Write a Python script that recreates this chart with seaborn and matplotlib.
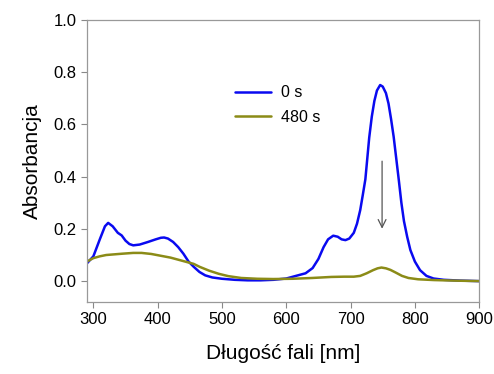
import numpy as np
import pandas as pd
import seaborn as sns
import matplotlib.pyplot as plt

# widmo 0 s
wl_0 = [290, 300, 310, 318, 323, 330, 338, 344, 350, 356, 362, 372, 385, 397, 405, 410, 416, 424,
        432, 440, 448, 456, 465, 474, 485, 500, 520, 540, 560, 580, 600, 615, 630, 641, 650, 658,
        665, 673, 680, 686, 692, 698, 705, 710, 715, 719, 723, 729, 733, 737, 741, 746, 750, 755,
        759, 763, 767, 771, 775, 779, 783, 788, 793, 800, 808, 818, 829, 845, 870, 900]
abs_0 = [0.068, 0.095, 0.16, 0.21, 0.223, 0.21, 0.185, 0.175, 0.155, 0.142, 0.137, 0.14, 0.15, 0.16,
         0.166, 0.167, 0.163, 0.15, 0.13, 0.105, 0.075, 0.055, 0.035, 0.022, 0.014, 0.009, 0.005,
         0.003, 0.003, 0.005, 0.01, 0.02, 0.03, 0.05, 0.085, 0.13, 0.16, 0.174, 0.17, 0.16, 0.157,
         0.163, 0.185, 0.22, 0.272, 0.33, 0.39, 0.55, 0.63, 0.69, 0.73, 0.751, 0.745, 0.72, 0.68,
         0.62, 0.553, 0.47, 0.387, 0.3, 0.23, 0.17, 0.119, 0.075, 0.042, 0.02, 0.01, 0.005, 0.002, 0.0]

# widmo 480 s
wl_480 = [290, 300, 310, 320, 330, 345, 362, 375, 390, 405, 420, 435, 456, 465, 480, 495, 510,
          530, 555, 580, 610, 640, 670, 690, 705, 715, 725, 735, 742, 748, 755, 762, 770, 780,
          790, 805, 830, 860, 900]
abs_480 = [0.075, 0.088, 0.095, 0.1, 0.102, 0.105, 0.108, 0.108, 0.104, 0.097, 0.09, 0.08, 0.066,
           0.055, 0.04, 0.028, 0.019, 0.012, 0.009, 0.008, 0.009, 0.012, 0.016, 0.017, 0.017, 0.02,
           0.03, 0.042, 0.049, 0.052, 0.049, 0.043, 0.033, 0.02, 0.012, 0.007, 0.004, 0.002, 0.0]

df = pd.concat([
    pd.DataFrame({'wl': wl_0, 'A': abs_0, 'czas': '0 s'}),
    pd.DataFrame({'wl': wl_480, 'A': abs_480, 'czas': '480 s'}),
])

sns.set_style("white")
plt.rcParams['font.family'] = ['Liberation Sans', 'DejaVu Sans']
plt.rcParams['text.color'] = 'black'
plt.rcParams['axes.labelcolor'] = 'black'
plt.rcParams['xtick.color'] = 'black'
plt.rcParams['ytick.color'] = 'black'

fig = plt.figure(figsize=(4.94, 3.74), dpi=100)
ax = fig.add_axes([0.176, 0.1925, 0.794, 0.754])

sns.lineplot(data=df, x='wl', y='A', hue='czas', palette=['#0a0af0', '#8b8b17'],
             linewidth=1.8, ax=ax, sort=False)

ax.annotate('', xy=(749, 0.19), xytext=(749, 0.47),
            arrowprops=dict(arrowstyle='->', color='#555555', lw=0.9, mutation_scale=14))

ax.set_xlim(290, 900)
ax.set_ylim(-0.08, 1.0)
ax.set_xticks([300, 400, 500, 600, 700, 800, 900])
ax.set_yticks([0.0, 0.2, 0.4, 0.6, 0.8, 1.0])
ax.set_yticklabels(['0.0', '0.2', '0.4', '0.6', '0.8', '1.0'])
ax.set_xlabel('Długość fali [nm]', fontsize=15, labelpad=12)
ax.set_ylabel('Absorbancja', fontsize=15, labelpad=8)
ax.tick_params(axis='both', labelsize=12, length=4, width=0.8, color='#888888',
               labelcolor='black', direction='out', bottom=True, left=True)
for sp in ax.spines.values():
    sp.set_color('#999999')
    sp.set_linewidth(0.9)

ax.legend(loc='upper left', bbox_to_anchor=(0.34, 0.82), frameon=False, fontsize=11.5,
          handlelength=2.3, handletextpad=0.6, labelspacing=0.6, title=None)

fig.savefig('out.png', dpi=100)
